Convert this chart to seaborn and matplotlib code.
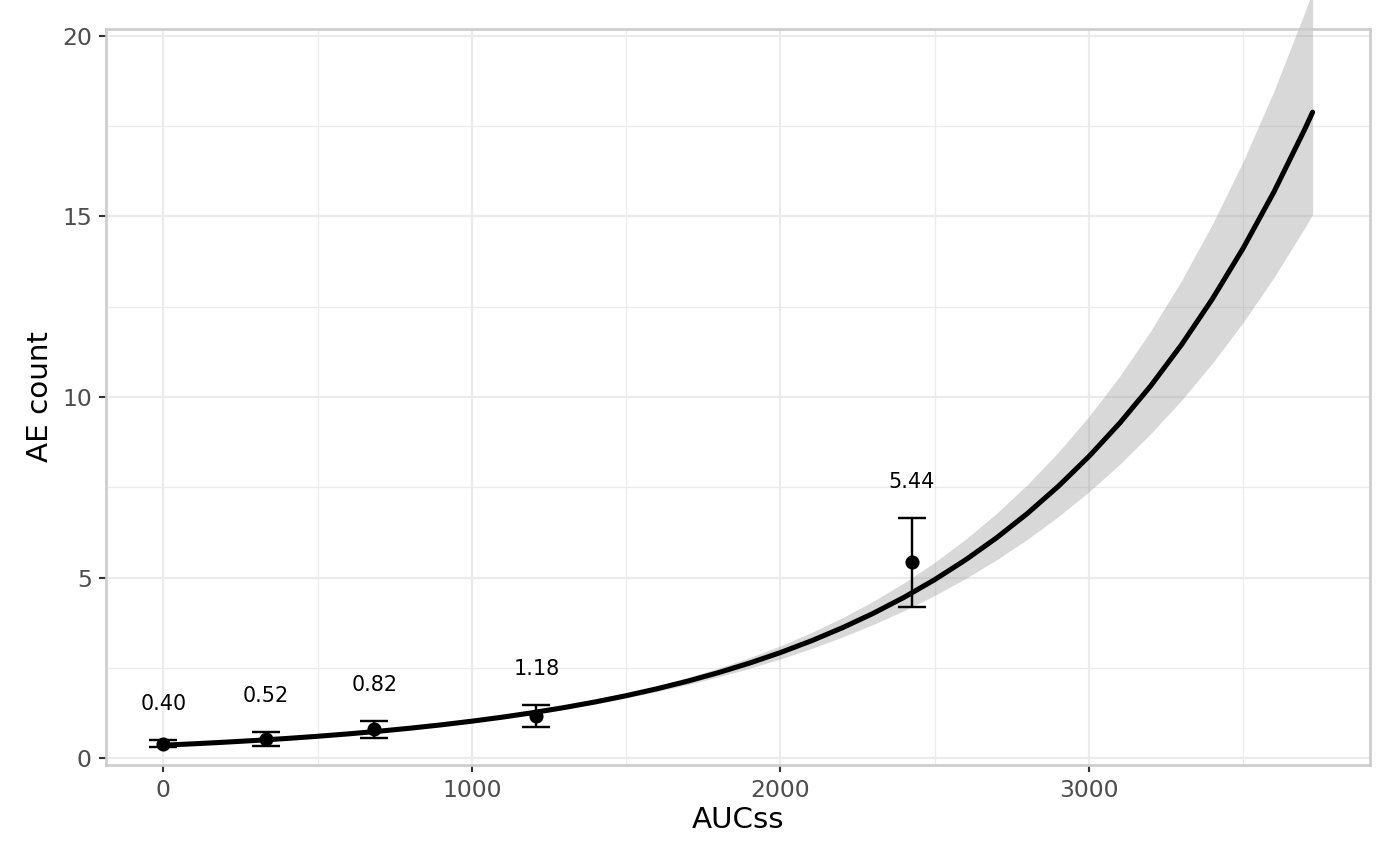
import numpy as np
import pandas as pd
import matplotlib
matplotlib.use("Agg")
import matplotlib.pyplot as plt
import seaborn as sns

# ---- observed points (binned means with 95% CI) ----
obs_x = [0, 333, 684, 1209, 2426]
obs_y = [0.40, 0.52, 0.82, 1.18, 5.44]
obs_lo = [0.30, 0.33, 0.57, 0.87, 4.19]
obs_hi = [0.50, 0.71, 1.03, 1.46, 6.65]
obs_labels = ["0.40", "0.52", "0.82", "1.18", "5.44"]

# ---- model prediction curve ----
curve_x = [0, 100, 200, 300, 400, 500, 600, 700, 800, 900,
           1000, 1100, 1200, 1300, 1400, 1500, 1600, 1700, 1800, 1900,
           2000, 2100, 2200, 2300, 2400, 2500, 2600, 2700, 2800, 2900,
           3000, 3100, 3200, 3300, 3400, 3500, 3600, 3700, 3725]
curve_fit = [0.358, 0.3976, 0.4417, 0.4906, 0.5449, 0.6052, 0.6722, 0.7466, 0.8293, 0.9211,
             1.0231, 1.1363, 1.2621, 1.4019, 1.5571, 1.7295, 1.9210, 2.1336, 2.3698, 2.6322,
             2.9236, 3.2472, 3.6067, 4.0060, 4.4495, 4.9421, 5.4892, 6.0969, 6.7718, 7.5215,
             8.3541, 9.2790, 10.306, 11.447, 12.714, 14.122, 15.685, 17.422, 17.886]
curve_lo = [0.3284, 0.3670, 0.4103, 0.4584, 0.5122, 0.5721, 0.6390, 0.7133, 0.7961, 0.8878,
            0.9893, 1.1011, 1.2238, 1.3584, 1.5056, 1.6670, 1.8441, 2.0384, 2.2527, 2.4884,
            2.7480, 3.0342, 3.3501, 3.6980, 4.0821, 4.5055, 4.9730, 5.4882, 6.0560, 6.6834,
            7.3754, 8.1388, 8.9805, 9.9099, 10.934, 12.067, 13.314, 14.691, 15.057]
curve_hi = [0.3902, 0.4307, 0.4755, 0.5250, 0.5797, 0.6402, 0.7072, 0.7815, 0.8639, 0.9556,
            1.0581, 1.1727, 1.3016, 1.4468, 1.6104, 1.7944, 2.0011, 2.2332, 2.4930, 2.7843,
            3.1104, 3.4752, 3.8830, 4.3397, 4.8500, 5.4210, 6.0590, 6.7730, 7.5722, 8.4647,
            9.4627, 10.579, 11.827, 13.222, 14.784, 16.527, 18.478, 20.661, 21.247]

x_ticks = [0, 1000, 2000, 3000]
x_minor = [500, 1500, 2500, 3500]
y_ticks = [0, 5, 10, 15, 20]
y_minor = [2.5, 7.5, 12.5, 17.5]

sns.set_theme(style="white")
plt.rcParams["font.family"] = ["DejaVu Sans"]

W, H, DPI = 1400, 865, 192
fig = plt.figure(figsize=(W / DPI, H / DPI), dpi=DPI)
L, R, T, B = 106, 1370, 29, 765
ax = fig.add_axes([L / W, 1 - B / H, (R - L) / W, (B - T) / H])

curve_df = pd.DataFrame({"x": curve_x, "fit": curve_fit, "lo": curve_lo, "hi": curve_hi})
obs_df = pd.DataFrame({"x": obs_x, "y": obs_y, "lo": obs_lo, "hi": obs_hi})

# ribbon
ax.fill_between(curve_df["x"], curve_df["lo"], curve_df["hi"], color="#999999",
                alpha=0.38, linewidth=0, clip_on=False, zorder=2)
# fitted curve
sns.lineplot(data=curve_df, x="x", y="fit", color="black", linewidth=1.9,
             ax=ax, zorder=3, sort=True, estimator=None)
# error bars
yerr = np.vstack([obs_df["y"] - obs_df["lo"], obs_df["hi"] - obs_df["y"]])
ax.errorbar(obs_df["x"], obs_df["y"], yerr=yerr, fmt="none", ecolor="black",
            elinewidth=0.9, capsize=5.3, capthick=0.9, zorder=4)
# points
sns.scatterplot(data=obs_df, x="x", y="y", color="black", s=28, edgecolor="black",
                linewidth=0, ax=ax, zorder=5)
# labels
for xv, hv, lab in zip(obs_x, obs_hi, obs_labels):
    ax.text(xv, hv + 1.0, lab, ha="center", va="center", fontsize=7.8, color="black", zorder=6)

ax.set_xlim(-186, 3911)
ax.set_ylim(-0.19, 20.19)
ax.set_xticks(x_ticks)
ax.set_xticks(x_minor, minor=True)
ax.set_yticks(y_ticks)
ax.set_yticks(y_minor, minor=True)
ax.set_xticklabels([str(v) for v in x_ticks])
ax.set_yticklabels([str(v) for v in y_ticks])

ax.set_axisbelow(True)
ax.grid(which="major", color="#EBEBEB", linewidth=0.8)
ax.grid(which="minor", color="#EBEBEB", linewidth=0.45)

ax.tick_params(which="major", length=2.7, width=0.8, color="#333333",
               labelsize=8.8, labelcolor="#4D4D4D", pad=2.6,
               bottom=True, left=True)
ax.tick_params(which="minor", length=0)

for sp in ax.spines.values():
    sp.set_visible(True)
    sp.set_color("#CCCCCC")
    sp.set_linewidth(1.0)
    sp.set_zorder(7)

ax.set_xlabel("AUCss", fontsize=11, color="black")
ax.set_ylabel("AE count", fontsize=11, color="black")
ax.xaxis.label.set_va("center")
ax.yaxis.label.set_va("center")
ax.xaxis.set_label_coords(0.5, -(820 - B) / (B - T))
ax.yaxis.set_label_coords((40 - L) / (R - L), 0.5)

fig.savefig("out.png", dpi=DPI)
